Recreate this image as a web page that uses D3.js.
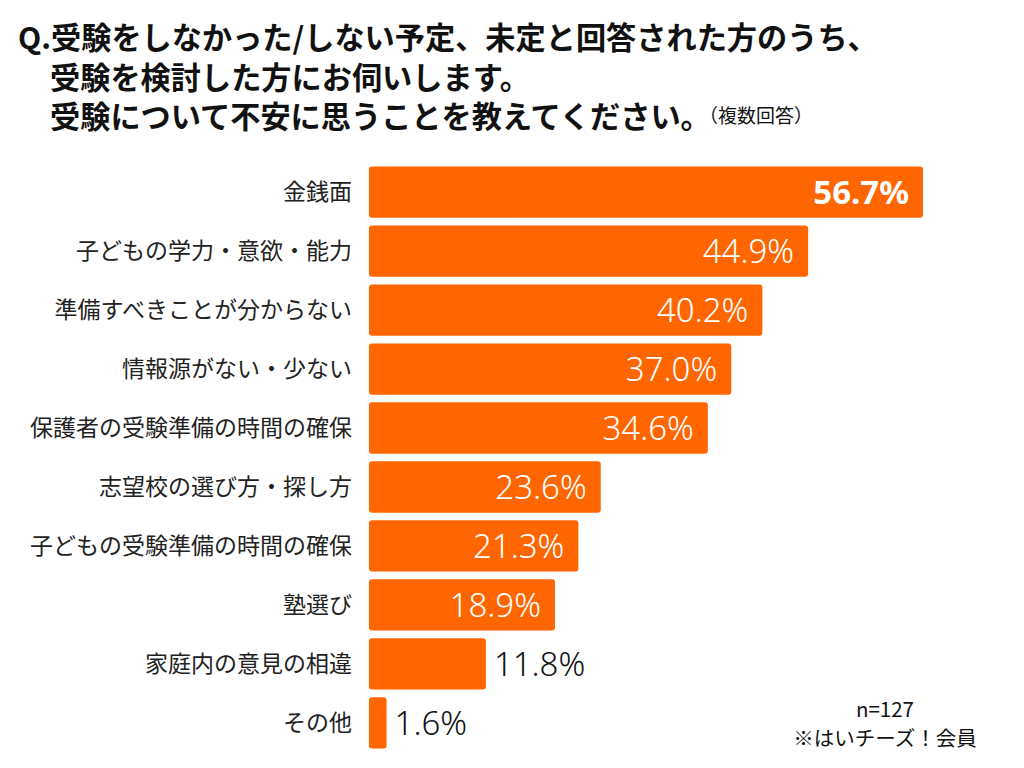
<html>
<head>
    <meta charset="utf-8">
    <style>
        body {
            margin: 0;
            background: white;
            font-family: "Noto Sans CJK JP", "Noto Sans", sans-serif;
        }
    </style>
    <script src="https://d3js.org/d3.v7.min.js"></script>
</head>
<body>
    <svg id="chart"></svg>
    <script>
    // data
    let categories = ["金銭面", "子どもの学力・意欲・能力", "準備すべきことが分からない", "情報源がない・少ない",
        "保護者の受験準備の時間の確保", "志望校の選び方・探し方", "子どもの受験準備の時間の確保", "塾選び",
        "家庭内の意見の相違", "その他"]
    let values = [56.7, 44.9, 40.2, 37.0, 34.6, 23.6, 21.3, 18.9, 11.8, 1.6]
    let titleLines = ["Q.受験をしなかった/しない予定、未定と回答された方のうち、", "受験を検討した方にお伺いします。", "受験について不安に思うことを教えてください。"]
    let titleNote = "（複数回答）"
    let footNotes = ["n=127", "※はいチーズ！会員"]

    let width = 1024, height = 768
    let svg = d3.select("#chart").attr("width", width).attr("height", height)

    let rows = categories.map((c, i) => ({name: c, value: values[i]}))

    let x = d3.scaleLinear().domain([0, 56.7]).range([371, 923])
    let y = d3.scaleBand().domain(categories).range([163, 752]).paddingInner(0.13).paddingOuter(0.06)

    // title
    let title = svg.append("g")
    title.selectAll("text").data(titleLines).enter().append("text")
        .attr("x", (d, i) => i == 0 ? 18 : 50)
        .attr("y", (d, i) => 49 + i * 39.5)
        .attr("font-size", 30.2)
        .attr("font-weight", "bold")
        .attr("fill", "#111")
        .text(d => d)
    svg.append("text")
        .attr("x", 699).attr("y", 123)
        .attr("font-size", 19)
        .attr("fill", "#111")
        .text(titleNote)

    // bars
    svg.selectAll("rect.bar").data(rows).enter().append("rect")
        .attr("class", "bar")
        .attr("x", 369)
        .attr("y", d => y(d.name))
        .attr("width", d => x(d.value) - 369)
        .attr("height", y.bandwidth())
        .attr("rx", 3)
        .attr("fill", "#FF6600")

    // category labels
    svg.selectAll("text.cat").data(rows).enter().append("text")
        .attr("class", "cat")
        .attr("x", 352)
        .attr("y", d => y(d.name) + y.bandwidth() / 2)
        .attr("dy", "0.36em")
        .attr("text-anchor", "end")
        .attr("font-size", 23)
        .attr("fill", "#222")
        .text(d => d.name)

    // value labels
    let inside = d => d.value > 15
    svg.selectAll("text.val").data(rows).enter().append("text")
        .attr("class", "val")
        .attr("x", d => inside(d) ? x(d.value) - 14 : x(d.value) + 8)
        .attr("y", d => y(d.name) + y.bandwidth() / 2)
        .attr("dy", "0.36em")
        .attr("text-anchor", d => inside(d) ? "end" : "start")
        .attr("font-family", "'Noto Sans', sans-serif")
        .attr("font-size", 33)
        .attr("font-weight", (d, i) => i == 0 ? "bold" : 300)
        .attr("fill", d => inside(d) ? "white" : "#111")
        .text(d => d.value.toFixed(1) + "%")

    // footnotes
    svg.selectAll("text.foot").data(footNotes).enter().append("text")
        .attr("class", "foot")
        .attr("x", 885)
        .attr("y", (d, i) => 717 + i * 29)
        .attr("text-anchor", "middle")
        .attr("font-size", 20.5)
        .attr("fill", "#111")
        .text(d => d)
    </script>
</body>
</html>
